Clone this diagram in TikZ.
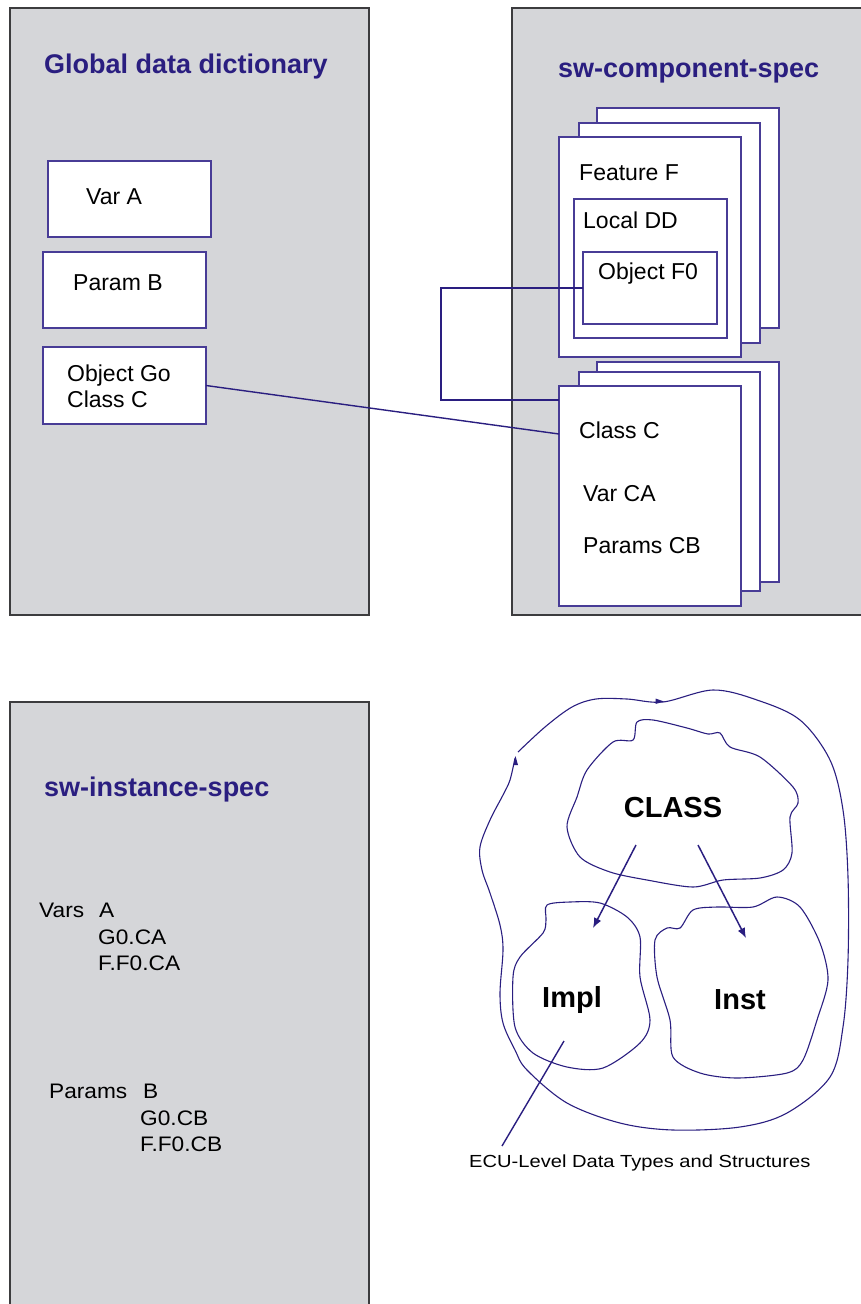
\documentclass[tikz,border=0pt]{standalone}
\usepackage{fontspec}
\setmainfont{Liberation Sans}
\newfontfamily\wideA[FakeStretch=1.08]{Liberation Sans}
\newfontfamily\wideB[FakeStretch=1.15]{Liberation Sans}
\usetikzlibrary{arrows.meta}
\definecolor{panelgray}{RGB}{213,214,217}
\definecolor{panelline}{RGB}{60,60,62}
\definecolor{navy}{RGB}{42,30,128}
\definecolor{boxline}{RGB}{72,60,150}
\begin{document}
\begin{tikzpicture}[x=1pt,y=-1pt,
  panel/.style={draw=panelline,fill=panelgray,line width=1.3pt,inner sep=0,outer sep=0,anchor=north west},
  wbox/.style={draw=boxline,fill=white,line width=1.3pt,inner sep=0,outer sep=0,anchor=north west},
  txt/.style={font=\fontsize{23}{27}\selectfont,anchor=base west,inner sep=0},
  btxt/.style={font=\wideA\fontsize{21}{26}\selectfont,anchor=base west,inner sep=0},
  ttl/.style={font=\bfseries\fontsize{27}{32}\selectfont,text=navy,anchor=base west,inner sep=0},
  big/.style={font=\bfseries\fontsize{29}{34}\selectfont,inner sep=0},
  conn/.style={draw=navy,line width=1.4pt},
  blob/.style={draw=navy,line width=1.1pt},
  arr/.style={draw=navy,line width=1.5pt,-{Latex[length=10pt,width=8pt]}}
]
\useasboundingbox (0,0) rectangle (860,1304);

% panels
\node[panel,minimum width=359pt,minimum height=607pt] (gdd) at (10,8) {};
\node[panel,minimum width=380pt,minimum height=607pt] (swc) at (512,8) {};
\node[panel,minimum width=359pt,minimum height=620pt] (swi) at (10,702) {};

% titles
\node[ttl] (tgdd) at (44,73) {Global data dictionary};
\node[ttl] (tswc) at (558,77) {sw-component-spec};
\node[ttl] (tswi) at (44,796) {sw-instance-spec};

% global dd boxes
\node[wbox,minimum width=163pt,minimum height=76pt] (varA) at (48,161) {};
\node[wbox,minimum width=163pt,minimum height=76pt] (parB) at (43,252) {};
\node[wbox,minimum width=163pt,minimum height=77pt] (objG) at (43,347) {};
\node[txt] (tvarA) at (86,204) {Var A};
\node[txt] (tparB) at (73,290) {Param B};
\node[txt] (tobjG) at (67,381) {Object Go};
\node[txt] (tclsG) at (67,407) {Class C};

% feature stack
\node[wbox,minimum width=182pt,minimum height=220pt] (featB) at (597,108) {};
\node[wbox,minimum width=181pt,minimum height=220pt] (featM) at (579,123) {};
\node[wbox,minimum width=182pt,minimum height=220pt] (featF) at (559,137) {};
\node[wbox,minimum width=153pt,minimum height=139pt] (ldd) at (574,199) {};
\node[wbox,minimum width=134pt,minimum height=72pt] (objF) at (583,252) {};
\node[txt] (tfeat) at (579,180) {Feature F};
\node[txt] (tldd) at (583,228) {Local DD};
\node[txt] (tobjF) at (598,279) {Object F0};

% class stack
\node[wbox,minimum width=182pt,minimum height=220pt] (clsB) at (597,362) {};
\node[wbox,minimum width=181pt,minimum height=219pt] (clsM) at (579,372) {};
\node[wbox,minimum width=182pt,minimum height=220pt] (clsF) at (559,386) {};
\node[txt] (tcls) at (579,438) {Class C};
\node[txt] (tvca) at (583,501) {Var CA};
\node[txt] (tpcb) at (583,553) {Params CB};

% connectors
\coordinate (clsIn1) at (559,434);
\coordinate (clsIn2) at (559,400);
\coordinate (loopc) at (441,400);
\draw[conn] (objG.east) -- (clsIn1);
\draw[conn] (objF.west) -| (loopc) -- (clsIn2);

% instance spec text
\node[btxt] (tvars) at (39,917) {Vars};
\node[btxt] (tvA) at (99,917) {A};
\node[btxt] (tg0ca) at (98,944) {G0.CA};
\node[btxt] (tffca) at (98,970.5) {F.F0.CA};
\node[btxt] (tpars) at (49,1098) {Params};
\node[btxt] (tpB) at (143,1098) {B};
\node[btxt] (tg0cb) at (140,1125) {G0.CB};
\node[btxt] (tffcb) at (140,1151.5) {F.F0.CB};

% blobs
\draw[blob] plot[smooth,tension=0.55] coordinates {
 (515,758) (510,780) (503,795) (490,820) (480,847) (482,870) (490,893) (500,925) (503,950)
 (500,993) (503,1023) (515,1050) (527,1070) (567,1103) (620,1123) (673,1130) (740,1127)
 (787,1113) (830,1077) (843,1027) (848,960) (848,877) (843,810) (830,760) (800,720)
 (757,700) (713,690) (663,702) (627,699) (596,699) (572,707) (545,727) (518,752)};
\fill[navy] (655.5,698.5) -- (664,701.5) -- (655.5,704) -- cycle;
\fill[navy] (513.5,765) -- (515.5,756) -- (518,765) -- cycle;

\draw[blob] plot[smooth cycle,tension=0.5] coordinates {
 (637,722) (653,720) (687,728) (708,734) (720,733) (730,747) (760,757) (793,787) (798,803)
 (790,817) (792,853) (783,870) (760,878) (723,880) (693,887) (647,880) (610,872)
 (580,857) (567,827) (577,797) (587,770) (613,742) (633,740)};

\draw[blob] plot[smooth cycle,tension=0.5] coordinates {
 (547,905) (570,902) (600,903) (627,917) (640,937) (640,977) (650,1020) (640,1043)
 (603,1068) (567,1067) (533,1053) (515,1027) (513,977) (520,957) (543,933) (546,920)};

\draw[blob] plot[smooth cycle,tension=0.5] coordinates {
 (667,928) (680,928) (693,910) (717,907) (753,907) (777,897) (800,907) (820,943) (828,980)
 (817,1020) (803,1060) (787,1073) (737,1078) (700,1073) (673,1057) (670,1020)
 (657,977) (655,940)};

\node[big] (CLASS) at (673,808) {CLASS};
\node[big] (Impl) at (572,1000) {Impl};
\node[big] (Inst) at (740,1000) {Inst};

\coordinate (a1s) at (636,845);
\coordinate (a1e) at (593,928);
\coordinate (a2s) at (698,845);
\coordinate (a2e) at (746,938);
\draw[arr] (a1s) -- (a1e);
\draw[arr] (a2s) -- (a2e);

\coordinate (ecuS) at (564,1041);
\coordinate (ecuE) at (502,1146);
\draw[conn] (ecuS) -- (ecuE);
\node[font=\wideB\fontsize{17.5}{21}\selectfont,anchor=base west,inner sep=0] (ecu) at (469,1167) {ECU-Level Data Types and Structures};
\end{tikzpicture}
\end{document}
